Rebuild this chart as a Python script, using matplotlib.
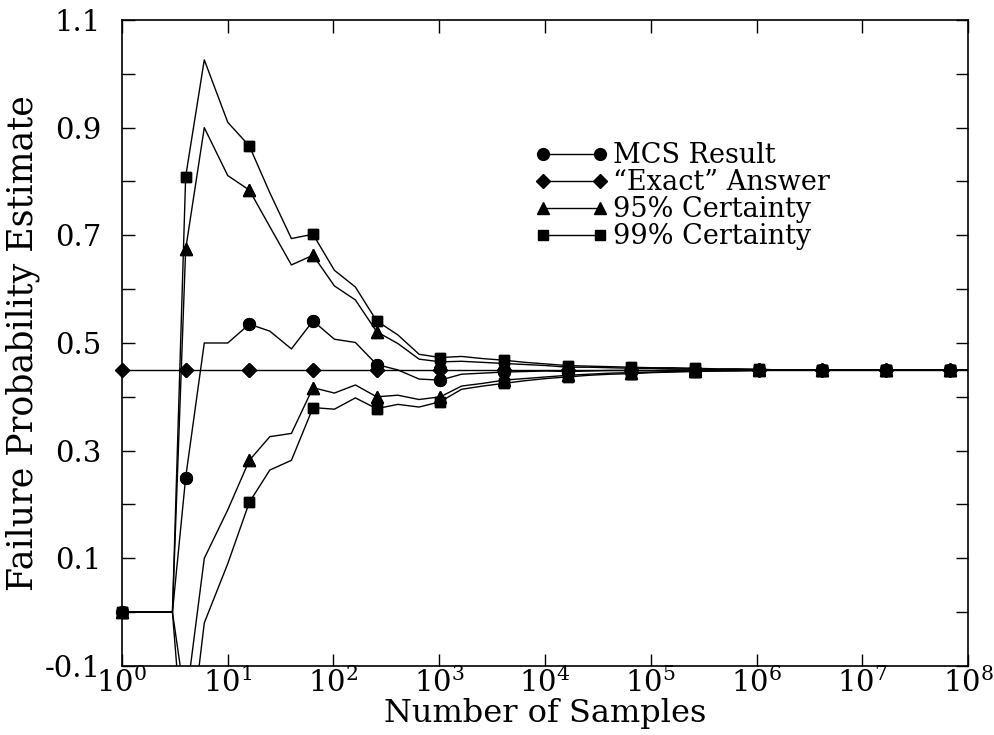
import matplotlib
matplotlib.use('Agg')
import matplotlib.pyplot as plt
from matplotlib.ticker import FixedLocator, FormatStrFormatter, NullLocator

plt.rcParams['font.family'] = 'serif'
plt.rcParams['font.serif'] = ['DejaVu Serif', 'Liberation Serif']
plt.rcParams['axes.unicode_minus'] = False
plt.rcParams['mathtext.fontset'] = 'dejavuserif'

# sample counts (markers every 4x)
n_samples = [1, 2, 3, 4, 6, 10, 16, 25, 40, 64, 102, 161, 256, 406, 645, 1024,
             1625, 2580, 4096, 6502, 10321, 16384, 26008, 41285, 65536, 104032,
             165140, 262144, 416128, 660561, 1048576, 1664510, 2642246, 4194304,
             6658043, 10568983, 16777216, 26632172, 42275932, 67108864, 106528681]

mcs = [0.0, 0.0, 0.0, 0.250, 0.500, 0.500, 0.535, 0.522, 0.489, 0.541, 0.507,
       0.501, 0.460, 0.450, 0.433, 0.431, 0.442, 0.444, 0.446, 0.447, 0.448,
       0.447, 0.448, 0.449, 0.449, 0.449, 0.450, 0.450, 0.450, 0.450, 0.450,
       0.450, 0.450, 0.450, 0.450, 0.450, 0.450, 0.450, 0.450, 0.450, 0.450]

exact = [0.45, 0.45, 0.45, 0.45, 0.45, 0.45, 0.45, 0.45, 0.45, 0.45, 0.45,
         0.45, 0.45, 0.45, 0.45, 0.45, 0.45, 0.45, 0.45, 0.45, 0.45,
         0.45, 0.45, 0.45, 0.45, 0.45, 0.45, 0.45, 0.45, 0.45, 0.45,
         0.45, 0.45, 0.45, 0.45, 0.45, 0.45, 0.45, 0.45, 0.45, 0.45]

up95 = [0.0, 0.0, 0.0, 0.674, 0.900, 0.811, 0.784, 0.716, 0.645, 0.663, 0.606,
        0.580, 0.521, 0.499, 0.470, 0.465, 0.466, 0.464, 0.462, 0.460, 0.458,
        0.455, 0.455, 0.454, 0.453, 0.453, 0.452, 0.452, 0.451, 0.451, 0.451,
        0.450, 0.450, 0.450, 0.450, 0.450, 0.450, 0.450, 0.450, 0.450, 0.450]

lo95 = [0.0, 0.0, 0.0, -0.170, 0.100, 0.190, 0.282, 0.326, 0.332, 0.417, 0.407,
        0.422, 0.400, 0.403, 0.395, 0.400, 0.420, 0.425, 0.431, 0.434, 0.437,
        0.440, 0.442, 0.444, 0.445, 0.446, 0.447, 0.448, 0.448, 0.449, 0.449,
        0.450, 0.450, 0.450, 0.450, 0.450, 0.450, 0.450, 0.450, 0.450, 0.450]

up99 = [0.0, 0.0, 0.0, 0.809, 1.026, 0.910, 0.866, 0.779, 0.694, 0.702, 0.635,
        0.604, 0.541, 0.515, 0.479, 0.473, 0.475, 0.471, 0.468, 0.464, 0.461,
        0.458, 0.457, 0.456, 0.455, 0.454, 0.454, 0.453, 0.452, 0.452, 0.451,
        0.450, 0.450, 0.450, 0.450, 0.450, 0.450, 0.450, 0.450, 0.450, 0.450]

lo99 = [0.0, 0.0, 0.0, -0.310, -0.020, 0.090, 0.204, 0.264, 0.282, 0.380, 0.377,
        0.398, 0.378, 0.386, 0.381, 0.391, 0.414, 0.420, 0.425, 0.430, 0.434,
        0.437, 0.440, 0.442, 0.443, 0.445, 0.446, 0.447, 0.448, 0.448, 0.449,
        0.450, 0.450, 0.450, 0.450, 0.450, 0.450, 0.450, 0.450, 0.450, 0.450]

ymin, ymax = -0.1, 1.1

fig = plt.figure(figsize=(9.95, 7.35), dpi=100)
ax = fig.add_axes([0.1226, 0.0939, 0.8503, 0.8789])

lw = 1.0
series = [
    (mcs, None, 'o', 8.5, 'MCS Result'),
    (exact, None, 'D', 7.0, '\u201cExact\u201d Answer'),
    (up95, lo95, '^', 9.0, '95% Certainty'),
    (up99, lo99, 's', 7.5, '99% Certainty'),
]


def spine_markers(y, mk, ms):
    # markers sitting on the spine should not be cut, but skip ones off the plot
    xs = [x for x, v in zip(n_samples[::3], y[::3]) if ymin <= v <= ymax]
    vs = [v for v in y[::3] if ymin <= v <= ymax]
    ax.plot(xs, vs, ls='none', color='k', marker=mk, ms=ms, clip_on=False)


for y1, y2, mk, ms, lab in series:
    ax.plot(n_samples, y1, color='k', lw=lw, marker=mk, ms=ms, markevery=3,
            label=lab)
    spine_markers(y1, mk, ms)
    if y2 is not None:
        ax.plot(n_samples, y2, color='k', lw=lw, marker=mk, ms=ms, markevery=3)
        spine_markers(y2, mk, ms)

ax.set_xscale('log')
ax.set_xlim(1, 1e8)
ax.set_ylim(ymin, ymax)
ax.xaxis.set_major_locator(FixedLocator([10.0 ** i for i in range(9)]))
ax.xaxis.set_minor_locator(NullLocator())
ax.yaxis.set_major_locator(FixedLocator([-0.1, 0.1, 0.3, 0.5, 0.7, 0.9, 1.1]))
ax.yaxis.set_minor_locator(FixedLocator([0.0, 0.2, 0.4, 0.6, 0.8, 1.0]))
ax.yaxis.set_major_formatter(FormatStrFormatter('%.1f'))
ax.tick_params(which='both', direction='in', top=True, right=True,
               length=9, width=1, labelsize=21)
ax.tick_params(axis='x', pad=1)
ax.tick_params(axis='y', pad=15)
for s in ax.spines.values():
    s.set_linewidth(1.2)

ax.set_xlabel('Number of Samples', fontsize=23, labelpad=0)
ax.set_ylabel('Failure Probability Estimate', fontsize=25, labelpad=4)

ax.legend(loc='upper left', bbox_to_anchor=(0.488, 0.811), frameon=False,
          numpoints=2, handlelength=2.7, handletextpad=0.2, borderpad=0,
          labelspacing=0.0, borderaxespad=0, fontsize=19.5)

fig.savefig('out.png', dpi=100)
